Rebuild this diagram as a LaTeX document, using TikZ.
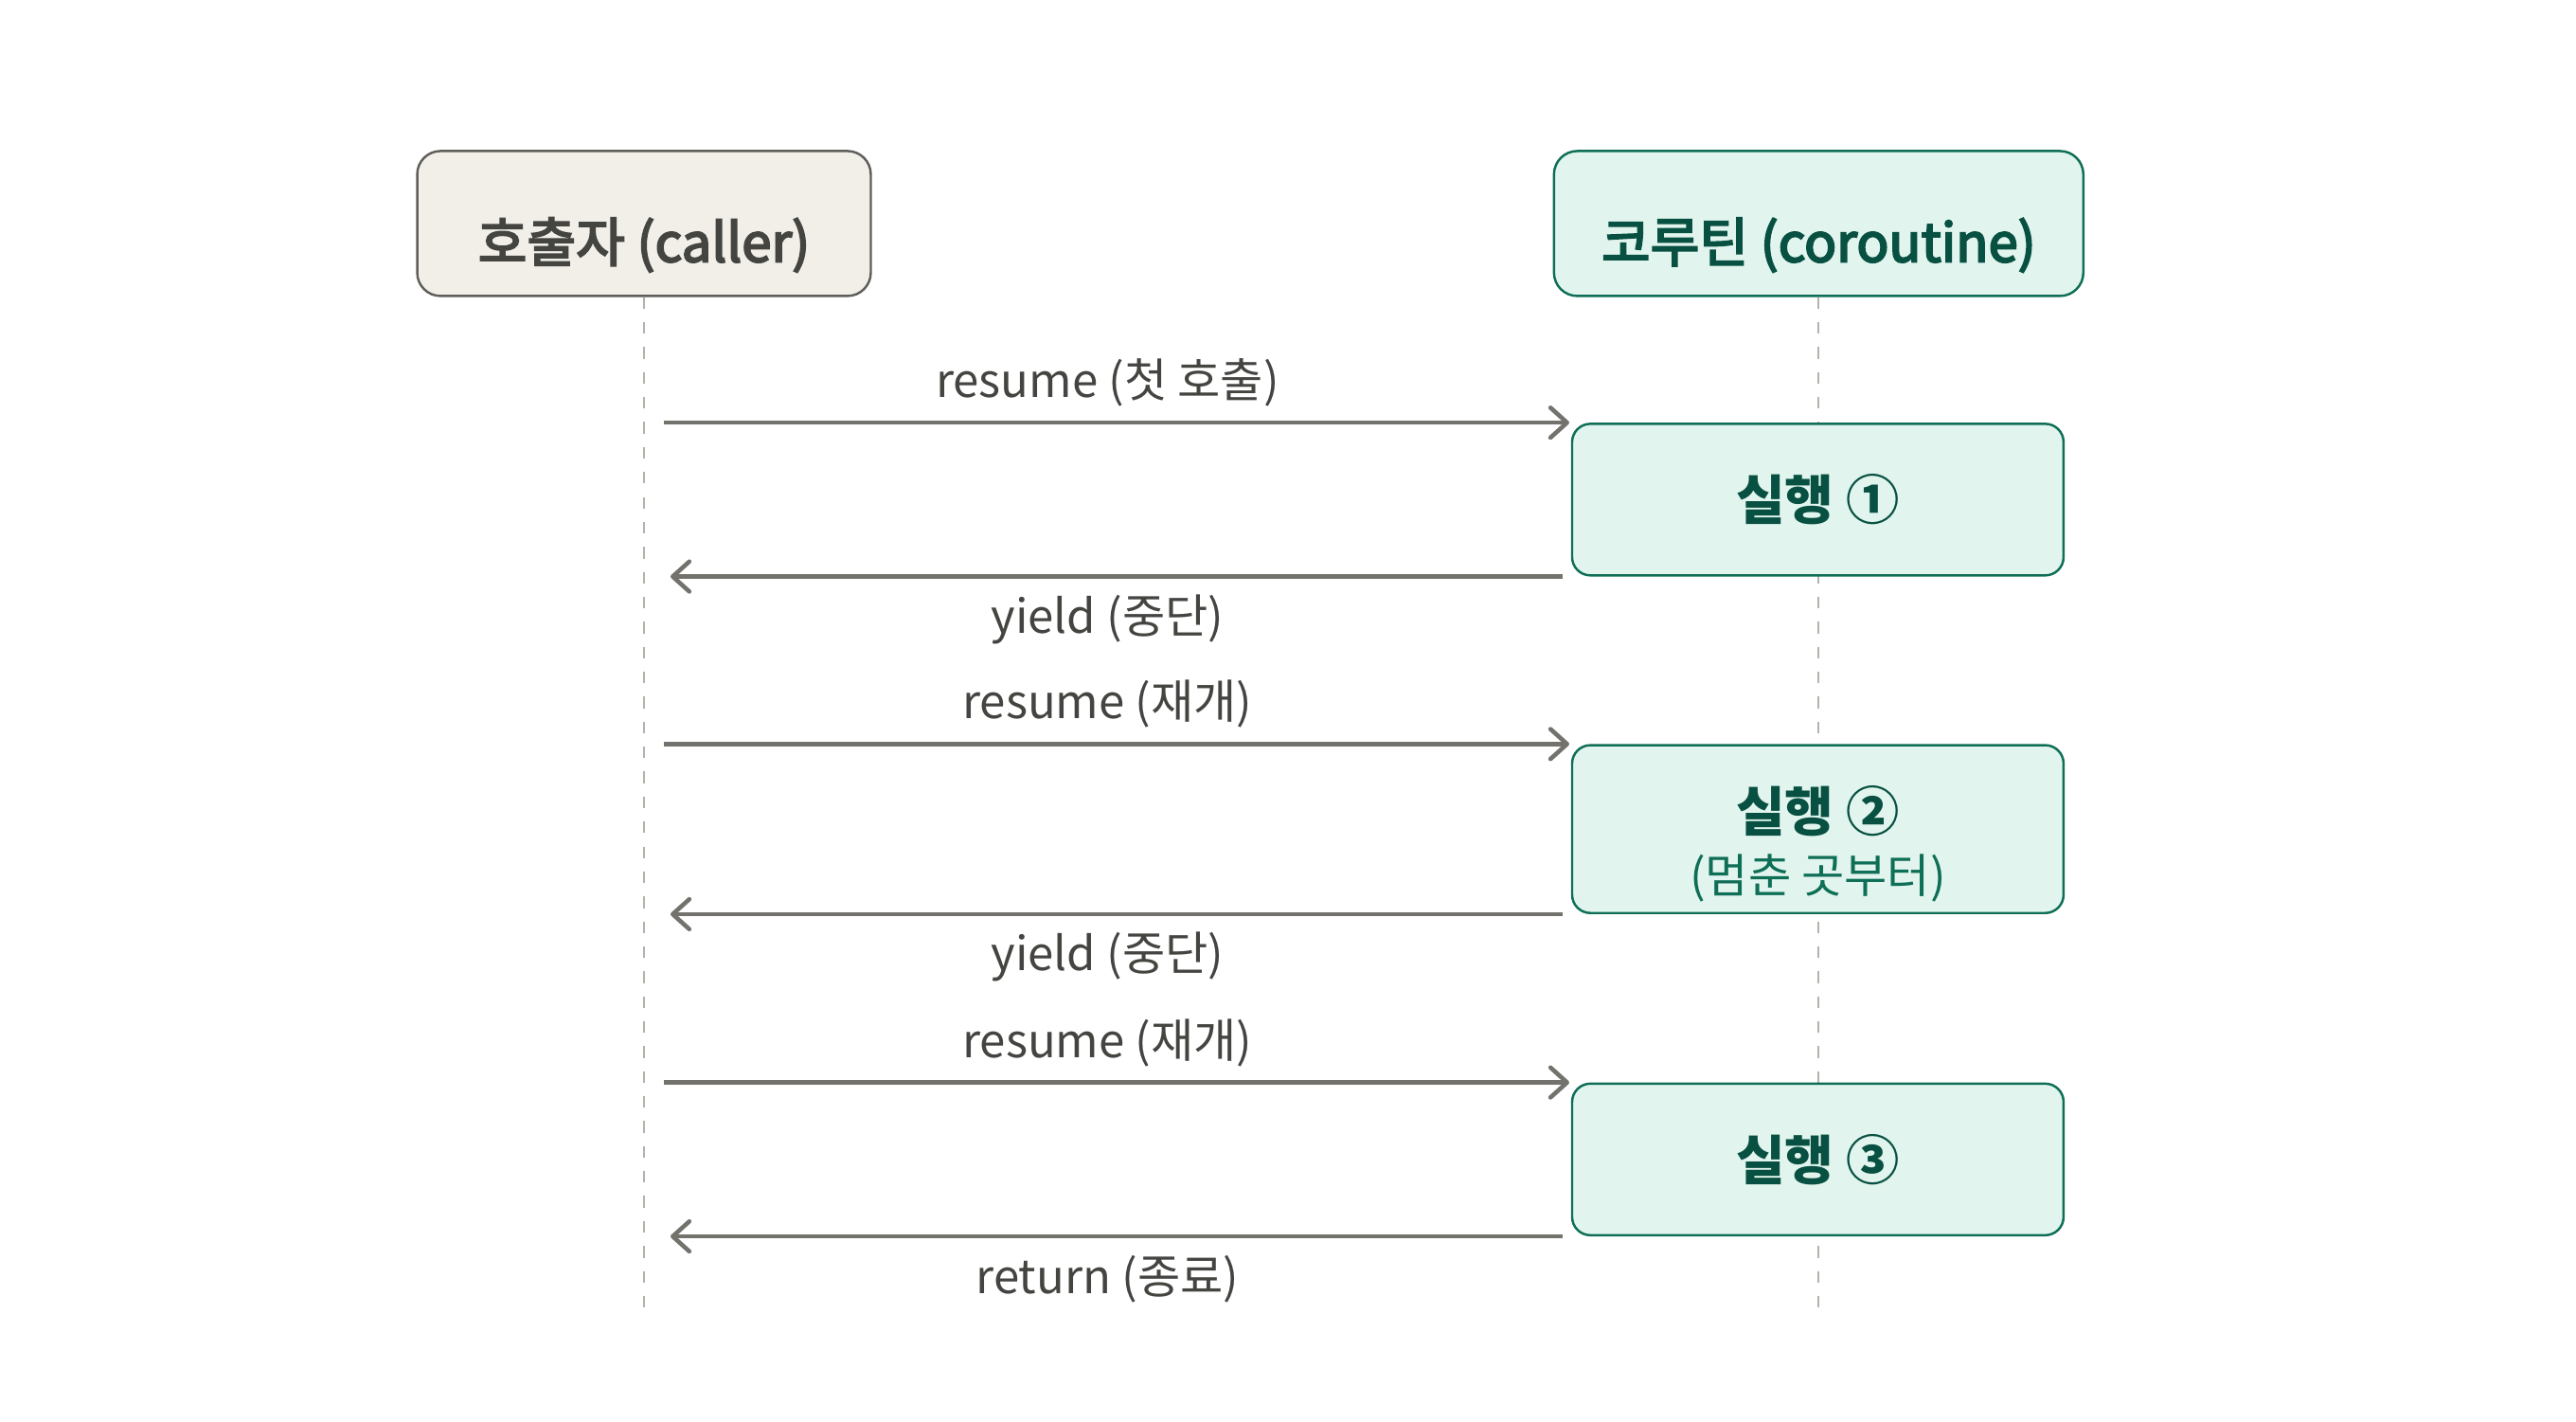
\documentclass[tikz,border=0pt]{standalone}
\usepackage{fontspec}
\setmainfont{Noto Sans CJK KR}
\newfontfamily\medfont[FakeBold=3.5]{Noto Sans CJK KR}
\usetikzlibrary{arrows.meta, positioning}
\definecolor{callerfill}{HTML}{F1EFE8}
\definecolor{callerline}{HTML}{5F5E5A}
\definecolor{callertext}{HTML}{444441}
\definecolor{cofill}{HTML}{E1F5EE}
\definecolor{coline}{HTML}{0F6E56}
\definecolor{cotext}{HTML}{085041}
\definecolor{arrowgray}{HTML}{73726C}
\definecolor{lifegray}{HTML}{B4B2A9}
\tikzstyle{caller} = [rectangle, rounded corners=7pt, minimum width=4.79cm, minimum height=1.53cm, text height=25pt, text depth=2pt, text centered, draw=callerline, fill=callerfill, line width=0.7pt, text=callertext, font=\fontsize{16}{19}\selectfont\medfont]
\tikzstyle{actor} = [rectangle, rounded corners=7pt, minimum width=5.59cm, minimum height=1.53cm, text height=25pt, text depth=2pt, text centered, draw=coline, fill=cofill, line width=0.7pt, text=cotext, font=\fontsize{16}{19}\selectfont\medfont]
\tikzstyle{run} = [rectangle, rounded corners=5.5pt, minimum width=5.19cm, minimum height=1.6cm, align=center, draw=coline, fill=cofill, line width=0.7pt, text=cotext, font=\fontsize{16}{18.5}\selectfont\bfseries]
\tikzstyle{lifeline} = [draw=lifegray, line width=0.6pt, dash pattern=on 3.5pt off 4pt]
\tikzstyle{arrow} = [line width=1.3pt, draw=arrowgray, -{Straight Barb[length=5pt, width=9pt, round]}]
\tikzstyle{msg} = [font=\fontsize{14}{16}\selectfont, text=callertext]

\begin{document}
\begin{tikzpicture}[x=0.017347cm, y=-0.017347cm]
    \useasboundingbox (0,0) rectangle (1568,865);
    \node (caller) [caller] at (392,136) {호출자 (caller)};
    \node (coroutine) [actor] at (1107,136) {코루틴 (coroutine)};

    % lifelines
    \coordinate (callerend) at (392,800);
    \coordinate (coend) at (1107,800);
    \draw [lifeline] (caller.south) -- (callerend);
    \draw [lifeline] (coroutine.south) -- (coend);

    \node (run1) [run] at (1106.5,304) {실행 ①};
    \node (run2) [run, minimum height=1.75cm, text height=41pt] at (1106.5,504.5) {실행 ②\\{\fontsize{14}{16}\selectfont\mdseries\color{coline}(멈춘 곳부터)}};
    \node (run3) [run] at (1106.5,705.5) {실행 ③};

    \draw [arrow, shorten <=0.21cm, shorten >=0.5pt] (caller.south |- run1.north) -- node[msg, yshift=0.42cm] {resume (첫 호출)} (run1.north west);
    \draw [arrow, shorten <=0.09cm, shorten >=0.28cm] (run1.south west) -- node[msg, yshift=-0.45cm] {yield (중단)} (caller.south |- run1.south);
    \draw [arrow, shorten <=0.21cm, shorten >=0.5pt] (caller.south |- run2.north) -- node[msg, yshift=0.42cm] {resume (재개)} (run2.north west);
    \draw [arrow, shorten <=0.09cm, shorten >=0.28cm] (run2.south west) -- node[msg, yshift=-0.45cm] {yield (중단)} (caller.south |- run2.south);
    \draw [arrow, shorten <=0.21cm, shorten >=0.5pt] (caller.south |- run3.north) -- node[msg, yshift=0.42cm] {resume (재개)} (run3.north west);
    \draw [arrow, shorten <=0.09cm, shorten >=0.28cm] (run3.south west) -- node[msg, yshift=-0.45cm] {return (종료)} (caller.south |- run3.south);
\end{tikzpicture}
\end{document}
